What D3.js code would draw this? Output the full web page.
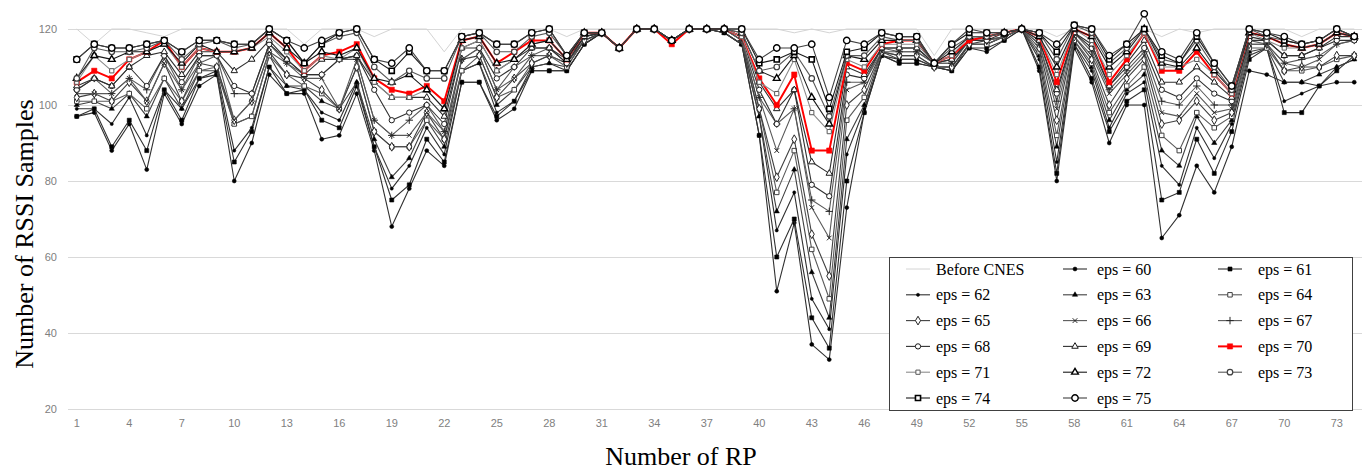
<!DOCTYPE html>
<html>
<head>
<meta charset="utf-8">
<script src="https://cdn.jsdelivr.net/npm/d3@7"></script>
<style>
  body { margin: 0; background: #fff; }
  svg { display: block; }
</style>
</head>
<body>
<div id="chart"></div>
<script>
//categories and tick labels
const rpLabels = d3.range(1, 75);
const xTickLabels = [1, 4, 7, 10, 13, 16, 19, 22, 25, 28, 31, 34, 37, 40, 43, 46, 49, 52, 55, 58, 61, 64, 67, 70, 73];
const yTickLabels = [20, 40, 60, 80, 100, 120];

//series values, one value per RP
const beforeCnes = [120, 116, 120, 120, 119, 118, 120, 120, 120, 120,
  120, 120, 120, 116, 120, 120, 120, 118, 120, 120,
  120, 114, 120, 120, 120, 120, 120, 120, 118, 120,
  120, 120, 120, 120, 120, 120, 120, 120, 120, 120,
  120, 119, 120, 119, 120, 120, 120, 120, 120, 113,
  120, 120, 120, 120, 120, 120, 118, 120, 120, 120,
  120, 120, 118, 120, 119, 120, 120, 120, 120, 120,
  118, 120, 120, 120];
const eps60 = [97, 98, 88, 95, 83, 103, 95, 105, 108, 80,
  90, 108, 103, 103, 91, 92, 103, 88, 68, 78,
  88, 84, 106, 106, 96, 99, 109, 109, 109, 116,
  119, 115, 120, 120, 117, 120, 120, 119, 116, 92,
  51, 69, 37, 33, 73, 98, 113, 111, 111, 110,
  109, 115, 114, 117, 120, 109, 80, 115, 106, 90,
  100, 100, 65, 71, 84, 77, 89, 109, 108, 106,
  106, 105, 106, 106];
const eps61 = [97, 99, 89, 96, 88, 104, 96, 107, 108, 85,
  93, 110, 103, 104, 96, 94, 105, 89, 75, 79,
  91, 85, 106, 106, 97, 101, 109, 109, 109, 116,
  119, 115, 120, 120, 117, 120, 120, 119, 116, 92,
  60, 70, 44, 36, 80, 98, 113, 111, 111, 110,
  109, 115, 115, 117, 120, 110, 82, 116, 107, 93,
  101, 104, 75, 77, 91, 82, 93, 112, 115, 98,
  98, 105, 109, 113];
const eps62 = [99, 99, 95, 102, 92, 104, 99, 107, 109, 88,
  94, 110, 105, 104, 98, 96, 106, 89, 78, 84,
  94, 87, 109, 111, 98, 101, 110, 111, 109, 116,
  119, 115, 120, 120, 117, 120, 120, 119, 116, 97,
  67, 77, 49, 41, 87, 99, 113, 112, 112, 110,
  109, 116, 116, 118, 120, 112, 85, 116, 109, 94,
  103, 106, 84, 79, 94, 86, 95, 113, 115, 101,
  103, 105, 110, 112];
const eps63 = [100, 101, 99, 103, 97, 107, 99, 109, 109, 95,
  97, 113, 105, 105, 101, 99, 106, 91, 81, 86,
  96, 89, 109, 111, 100, 104, 110, 111, 110, 117,
  119, 115, 120, 120, 117, 120, 120, 119, 116, 97,
  72, 83, 56, 44, 91, 100, 114, 112, 112, 110,
  110, 116, 116, 118, 120, 113, 89, 117, 110, 96,
  104, 108, 88, 84, 97, 90, 96, 114, 115, 106,
  106, 108, 110, 112];
const eps64 = [101, 101, 101, 103, 99, 107, 101, 109, 110, 95,
  97, 113, 108, 105, 103, 99, 110, 93, 89, 89,
  96, 91, 109, 113, 102, 104, 111, 113, 110, 117,
  119, 115, 120, 120, 117, 120, 120, 120, 117, 99,
  77, 88, 62, 49, 96, 102, 114, 113, 113, 110,
  110, 116, 116, 118, 120, 114, 92, 117, 111, 98,
  105, 110, 92, 88, 98, 94, 97, 115, 115, 109,
  109, 110, 112, 113];
const eps65 = [102, 103, 101, 106, 101, 111, 101, 111, 110, 96,
  101, 114, 108, 107, 104, 99, 110, 93, 89, 89,
  98, 91, 112, 113, 102, 107, 111, 113, 111, 117,
  119, 115, 120, 120, 117, 120, 120, 120, 117, 99,
  81, 91, 66, 55, 100, 104, 114, 113, 113, 110,
  110, 116, 117, 118, 120, 115, 96, 118, 112, 100,
  107, 112, 95, 96, 101, 96, 98, 116, 116, 109,
  110, 110, 113, 113];
const eps66 = [103, 103, 103, 107, 101, 111, 104, 111, 113, 96,
  101, 114, 111, 107, 107, 99, 112, 96, 92, 92,
  98, 93, 112, 115, 104, 107, 113, 113, 111, 118,
  119, 115, 120, 120, 117, 120, 120, 120, 117, 102,
  88, 99, 73, 65, 104, 106, 114, 114, 114, 111,
  111, 117, 117, 118, 120, 116, 99, 118, 113, 103,
  108, 113, 98, 97, 103, 98, 99, 116, 116, 111,
  110, 112, 116, 117];
const eps67 = [104, 107, 103, 107, 104, 113, 104, 113, 113, 103,
  103, 116, 111, 108, 108, 112, 112, 96, 92, 96,
  100, 93, 112, 115, 104, 110, 113, 115, 111, 118,
  119, 115, 120, 120, 117, 120, 120, 120, 117, 102,
  95, 99, 75, 72, 106, 106, 115, 114, 114, 111,
  111, 117, 117, 118, 120, 116, 101, 119, 114, 104,
  109, 114, 101, 100, 105, 100, 100, 117, 116, 111,
  112, 113, 116, 117];
const eps68 = [104, 107, 105, 110, 105, 113, 106, 113, 113, 105,
  103, 116, 112, 108, 108, 112, 113, 104, 96, 98,
  100, 95, 115, 115, 107, 110, 115, 115, 111, 118,
  119, 115, 120, 120, 117, 120, 120, 120, 118, 104,
  95, 104, 79, 76, 108, 107, 115, 115, 115, 111,
  112, 117, 117, 119, 120, 117, 103, 119, 115, 105,
  110, 115, 104, 102, 107, 103, 101, 117, 117, 113,
  113, 115, 117, 117];
const eps69 = [105, 107, 105, 110, 113, 114, 108, 114, 114, 109,
  112, 117, 112, 108, 112, 112, 113, 106, 102, 102,
  102, 97, 115, 117, 109, 112, 115, 115, 112, 118,
  119, 115, 120, 120, 117, 120, 120, 120, 118, 106,
  99, 104, 85, 82, 110, 108, 115, 115, 115, 111,
  112, 117, 118, 119, 120, 117, 104, 119, 116, 105,
  111, 117, 106, 106, 110, 106, 102, 118, 117, 113,
  113, 115, 118, 118];
const eps70 = [106, 109, 107, 112, 114, 117, 110, 115, 114, 114,
  115, 119, 115, 109, 113, 114, 116, 107, 104, 103,
  105, 101, 117, 118, 111, 114, 117, 117, 112, 119,
  119, 115, 120, 120, 116, 120, 120, 120, 118, 107,
  100, 108, 88, 88, 111, 109, 116, 117, 117, 111,
  113, 117, 118, 119, 120, 118, 106, 120, 118, 106,
  112, 119, 109, 109, 114, 108, 103, 119, 118, 116,
  115, 116, 119, 118];
const eps71 = [106, 113, 109, 112, 114, 116, 110, 115, 114, 114,
  115, 118, 114, 109, 113, 112, 115, 106, 102, 102,
  104, 99, 115, 117, 109, 112, 116, 117, 112, 119,
  119, 115, 120, 120, 117, 120, 120, 120, 118, 106,
  103, 112, 98, 93, 112, 110, 116, 116, 116, 111,
  113, 118, 118, 119, 120, 118, 108, 120, 117, 108,
  113, 119, 110, 110, 112, 108, 103, 119, 117, 115,
  115, 116, 119, 118];
const eps72 = [107, 113, 112, 114, 114, 116, 111, 116, 114, 114,
  115, 119, 115, 111, 114, 113, 115, 107, 106, 108,
  104, 99, 117, 118, 111, 112, 116, 117, 112, 119,
  119, 115, 120, 120, 117, 120, 120, 120, 119, 109,
  107, 113, 102, 95, 113, 112, 117, 117, 117, 111,
  114, 118, 118, 119, 120, 118, 110, 120, 118, 110,
  114, 120, 111, 110, 115, 109, 104, 119, 118, 116,
  115, 116, 119, 118];
const eps73 = [107, 115, 114, 114, 115, 117, 112, 116, 117, 115,
  116, 120, 117, 111, 116, 118, 119, 110, 106, 109,
  107, 107, 118, 119, 114, 114, 118, 119, 113, 119,
  119, 115, 120, 120, 117, 120, 120, 120, 119, 109,
  110, 114, 107, 97, 113, 113, 118, 117, 117, 111,
  115, 118, 118, 119, 120, 119, 112, 121, 119, 111,
  115, 120, 112, 111, 117, 110, 104, 120, 118, 117,
  116, 117, 120, 118];
const eps74 = [112, 116, 115, 115, 116, 117, 114, 117, 117, 116,
  116, 120, 117, 111, 116, 119, 120, 112, 109, 114,
  109, 109, 118, 119, 116, 116, 119, 120, 113, 119,
  119, 115, 120, 120, 117, 120, 120, 120, 120, 111,
  112, 114, 112, 99, 114, 115, 119, 118, 118, 111,
  116, 119, 119, 119, 120, 119, 114, 121, 120, 112,
  116, 120, 113, 111, 118, 111, 105, 120, 119, 117,
  116, 117, 120, 118];
const eps75 = [112, 116, 115, 115, 116, 117, 114, 117, 117, 116,
  116, 120, 117, 115, 117, 119, 120, 112, 111, 115,
  109, 109, 118, 119, 116, 116, 119, 120, 113, 119,
  119, 115, 120, 120, 117, 120, 120, 120, 120, 112,
  115, 115, 116, 102, 117, 116, 119, 118, 118, 111,
  116, 120, 119, 119, 120, 119, 116, 121, 120, 113,
  116, 124, 114, 112, 119, 111, 105, 120, 119, 118,
  116, 117, 120, 118];

const seriesNames = ["Before CNES", "eps = 60", "eps = 61", "eps = 62", "eps = 63", "eps = 64", "eps = 65",
  "eps = 66", "eps = 67", "eps = 68", "eps = 69", "eps = 70", "eps = 71", "eps = 72", "eps = 73", "eps = 74", "eps = 75"];
const seriesValues = [beforeCnes, eps60, eps61, eps62, eps63, eps64, eps65, eps66, eps67, eps68, eps69,
  eps70, eps71, eps72, eps73, eps74, eps75];

//line and marker styles per series
const symTimes = d3.symbolTimes || d3.symbolCross;
const symPlus = d3.symbolPlus || d3.symbolCross;
const styles = {
  "Before CNES": { line: "#d4d4d4", lw: 1, sym: null },
  "eps = 60": { line: "#303030", lw: 1.1, sym: d3.symbolCircle, size: 12, fill: "#000", stroke: "#000", sw: 0.6 },
  "eps = 61": { line: "#303030", lw: 1.1, sym: d3.symbolSquare, size: 16, fill: "#000", stroke: "#000", sw: 0.6 },
  "eps = 62": { line: "#303030", lw: 1.1, sym: d3.symbolCircle, size: 8, fill: "#000", stroke: "#000", sw: 0.5 },
  "eps = 63": { line: "#404040", lw: 1.1, sym: d3.symbolTriangle, size: 12, fill: "#000", stroke: "#000", sw: 0.5 },
  "eps = 64": { line: "#595959", lw: 1.1, sym: d3.symbolSquare, size: 20, fill: "#fff", stroke: "#404040", sw: 1 },
  "eps = 65": { line: "#404040", lw: 1.1, sym: d3.symbolDiamond, size: 22, fill: "#fff", stroke: "#262626", sw: 1 },
  "eps = 66": { line: "#595959", lw: 1.1, sym: symTimes, size: 16, fill: "none", stroke: "#262626", sw: 1 },
  "eps = 67": { line: "#595959", lw: 1.1, sym: symPlus, size: 20, fill: "none", stroke: "#262626", sw: 1 },
  "eps = 68": { line: "#303030", lw: 1.1, sym: d3.symbolCircle, size: 22, fill: "#fff", stroke: "#1a1a1a", sw: 1 },
  "eps = 69": { line: "#303030", lw: 1.1, sym: d3.symbolTriangle, size: 18, fill: "#fff", stroke: "#1a1a1a", sw: 1 },
  "eps = 70": { line: "#ff0000", lw: 2, sym: d3.symbolSquare, size: 28, fill: "#ff0000", stroke: "#ff0000", sw: 0.5 },
  "eps = 71": { line: "#8c8c8c", lw: 1.1, sym: d3.symbolSquare, size: 18, fill: "#fff", stroke: "#595959", sw: 1 },
  "eps = 72": { line: "#1a1a1a", lw: 1.1, sym: d3.symbolTriangle, size: 20, fill: "#fff", stroke: "#000", sw: 1.4 },
  "eps = 73": { line: "#595959", lw: 1.1, sym: d3.symbolCircle, size: 24, fill: "#fff", stroke: "#404040", sw: 1.2 },
  "eps = 74": { line: "#1a1a1a", lw: 1.1, sym: d3.symbolSquare, size: 26, fill: "#fff", stroke: "#000", sw: 1.6 },
  "eps = 75": { line: "#404040", lw: 1.1, sym: d3.symbolCircle, size: 32, fill: "#fff", stroke: "#000", sw: 1.4 }
};

const width = 1362, height = 470;
const plot = { left: 68, right: 1363, top: 29, bottom: 409 };

const svg = d3.select("#chart").append("svg")
  .attr("width", width).attr("height", height);

const x = d3.scaleBand().domain(rpLabels).range([plot.left, plot.right]);
const y = d3.scaleLinear().domain([20, 120]).range([plot.bottom, plot.top]);
const cx = rp => x(rp) + x.bandwidth() / 2;

drawAxes();
drawSeries();
drawLegend();

//gridlines, tick labels and titles
function drawAxes() {
  const yAxis = svg.append("g")
    .attr("transform", `translate(${plot.left},0)`)
    .call(d3.axisLeft(y).tickValues(yTickLabels).tickSize(-(plot.right - plot.left)).tickPadding(11));
  yAxis.select(".domain").remove();
  yAxis.selectAll(".tick line").attr("stroke", "#d9d9d9").attr("stroke-width", 1);
  yAxis.selectAll("text")
    .style("font-family", "'Liberation Sans', Arial, sans-serif")
    .style("font-size", "11px")
    .attr("fill", "#808080");

  const xAxis = svg.append("g")
    .attr("transform", `translate(0,${plot.bottom})`)
    .call(d3.axisBottom(x).tickValues(xTickLabels).tickSize(0).tickPadding(10));
  xAxis.select(".domain").remove();
  xAxis.selectAll("text")
    .style("font-family", "'Liberation Sans', Arial, sans-serif")
    .style("font-size", "11px")
    .attr("fill", "#808080");

  svg.append("text")
    .attr("transform", "translate(33,234) rotate(-90)")
    .attr("text-anchor", "middle")
    .style("font-family", "'Liberation Serif', 'Times New Roman', serif")
    .style("font-size", "26px")
    .text("Number of RSSI Samples");

  svg.append("text")
    .attr("x", 681).attr("y", 465)
    .attr("text-anchor", "middle")
    .style("font-family", "'Liberation Serif', 'Times New Roman', serif")
    .style("font-size", "26px")
    .text("Number of RP");
}

//lines with markers, drawn series by series
function drawSeries() {
  const line = d3.line().x((d, i) => cx(rpLabels[i])).y(d => y(d));

  seriesNames.forEach((name, i) => {
    const st = styles[name];
    const g = svg.append("g");
    g.append("path")
      .datum(seriesValues[i])
      .attr("d", line)
      .attr("fill", "none")
      .attr("stroke", st.line)
      .attr("stroke-width", st.lw)
      .attr("stroke-linejoin", "round");
    if (!st.sym) return;
    g.selectAll("path.mark")
      .data(seriesValues[i])
      .enter()
      .append("path")
        .attr("class", "mark")
        .attr("transform", (d, j) => `translate(${cx(rpLabels[j])},${y(d)})`)
        .attr("d", d3.symbol().type(st.sym).size(st.size))
        .attr("fill", st.fill)
        .attr("stroke", st.stroke)
        .attr("stroke-width", st.sw);
  });
}

//legend box, three columns
function drawLegend() {
  const lg = svg.append("g");
  lg.append("rect")
    .attr("x", 889.5).attr("y", 257.5)
    .attr("width", 463).attr("height", 153)
    .attr("fill", "#fff")
    .attr("stroke", "#404040")
    .attr("stroke-width", 1);

  const colLine = [906, 1063, 1218];
  const colText = [936, 1097, 1258];
  seriesNames.forEach((name, i) => {
    const col = i % 3, row = Math.floor(i / 3);
    const yy = 269 + row * 25.8;
    const st = styles[name];
    lg.append("line")
      .attr("x1", colLine[col]).attr("x2", colLine[col] + 24)
      .attr("y1", yy).attr("y2", yy)
      .attr("stroke", st.line)
      .attr("stroke-width", st.lw);
    if (st.sym) {
      lg.append("path")
        .attr("transform", `translate(${colLine[col] + 12},${yy})`)
        .attr("d", d3.symbol().type(st.sym).size(st.size))
        .attr("fill", st.fill)
        .attr("stroke", st.stroke)
        .attr("stroke-width", st.sw);
    }
    lg.append("text")
      .attr("x", colText[col]).attr("y", yy)
      .attr("dy", "0.35em")
      .style("font-family", "'Liberation Serif', 'Times New Roman', serif")
      .style("font-size", "16px")
      .text(name);
  });
}
</script>
</body>
</html>
